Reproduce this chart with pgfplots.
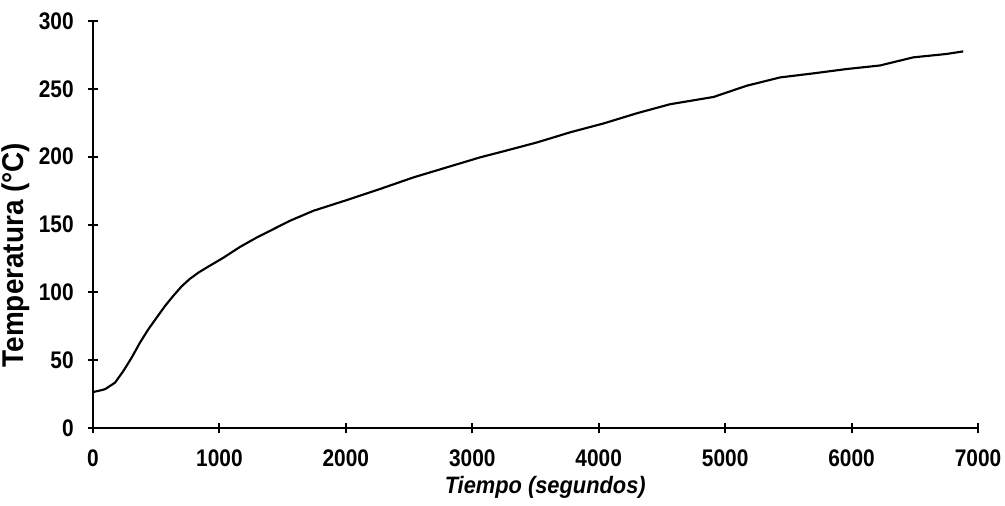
\documentclass[border=0pt]{standalone}
\usepackage{fontspec}
\setmainfont{Liberation Sans}
\newfontfamily\tickfont[FakeStretch=0.87]{Liberation Sans}
\newfontfamily\ylabfont[FakeStretch=0.93]{Liberation Sans}
\newfontfamily\xlabfont[FakeStretch=0.92]{Liberation Sans}
\usepackage{pgfplots}
\pgfplotsset{compat=1.18}
\begin{document}
\begin{tikzpicture}
\path[use as bounding box] (-69.75pt,-58.5pt) rectangle (684pt,321pt);
\begin{axis}[
  at={(0pt,0pt)}, anchor=origin,
  scale only axis,
  width=663.75pt, height=305.25pt,
  xmin=0, xmax=7000, ymin=0, ymax=300,
  axis lines*=left,
  axis line style={line width=2pt},
  xtick={0,1000,...,7000}, ytick={0,50,...,300},
  tick align=center,
  major tick length=8pt,
  tick style={line width=1.5pt, black},
  /pgf/number format/assume math mode=true,
  /pgf/number format/1000 sep={},
  ticklabel style={font=\tickfont\fontsize{18}{19}\selectfont\bfseries},
  xticklabel style={yshift=-9pt},
  yticklabel style={xshift=-7pt},
  xlabel={Tiempo (segundos)},
  ylabel={Temperatura (°C)},
  xlabel style={font=\xlabfont\fontsize{17.8}{19}\selectfont\bfseries\itshape, at={(axis description cs:0.511,-0.147)}, anchor=center},
  ylabel style={font=\ylabfont\fontsize{22.5}{24}\selectfont\bfseries, at={(axis description cs:-0.087,0.425)}, anchor=center, rotate=0},
  clip=false,
]
\addplot[black, line width=1.6pt] coordinates {
(0,26.5) (50,27.5) (95,28.6) (174,33.4) (240,42) (306,51.9) (372,63)
(438,72.8) (504,81.4) (570,90) (635,97.4) (702,104.5) (767,110)
(835,114.6) (900,118.3) (1031,125.5) (1163,133.5) (1295,140.4) (1427,146.6)
(1559,152.8) (1743,160.1) (2007,168) (2271,176.2) (2534,184.7)
(2798,192.1) (3062,199.5) (3249,204) (3512,210.5) (3776,218)
(4039,224.5) (4302,232) (4566,238.7) (4908,244) (5171,252.3)
(5434,258.4) (5698,261.4) (5961,264.6) (6224,267.2) (6488,273.2)
(6751,275.7) (6883,277.6)
};
\end{axis}
\end{tikzpicture}
\end{document}
